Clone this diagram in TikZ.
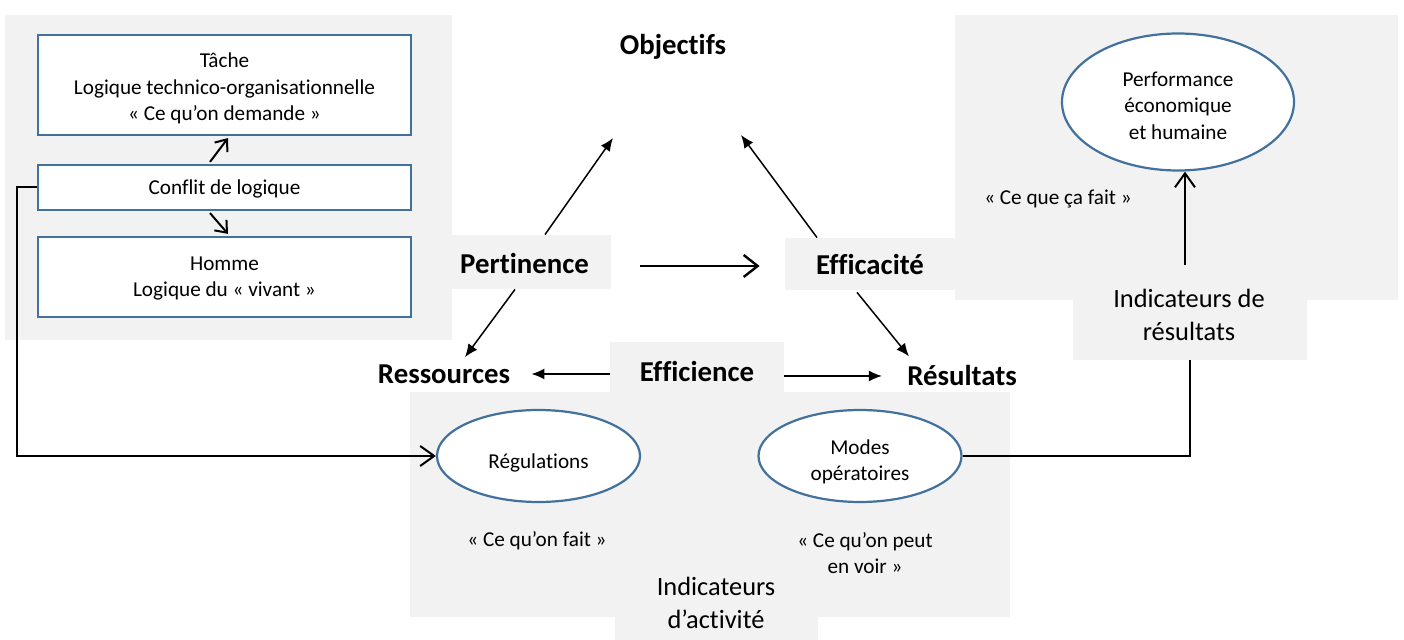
\documentclass[tikz,border=0pt]{standalone}
\usepackage{fontspec}
\setmainfont[Ligatures=NoCommon]{Carlito}
\usetikzlibrary{shapes.geometric,arrows.meta,calc}
\definecolor{panel}{HTML}{F2F2F2}
\definecolor{bord}{HTML}{41719C}
\begin{document}
\begin{tikzpicture}[x=0.5pt,y=-0.5pt,
  txt/.style={font=\fontsize{10.6}{13.3}\selectfont, align=center, inner sep=0pt},
  big/.style={font=\fontsize{14.4}{17}\selectfont\bfseries, inner sep=0pt},
  ind/.style={font=\fontsize{13.2}{16.5}\selectfont, align=center, inner sep=0pt},
  bluebox/.style={draw=bord, line width=1.1pt, fill=white, minimum width=186.5pt, align=center, inner sep=0pt, font=\fontsize{10.6}{13.3}\selectfont},
  oval/.style={ellipse, draw=bord, line width=1.1pt, fill=white, align=center, inner sep=0pt, font=\fontsize{10.6}{13.3}\selectfont},
  greybox/.style={fill=panel, inner sep=0pt, font=\fontsize{14.4}{17}\selectfont\bfseries},
  filled/.style={line width=0.75pt, -{Latex[length=6.5pt,width=5.5pt]}},
  openarr/.style={line width=1pt, -{Straight Barb[length=7pt,width=10pt]}},
  smallopen/.style={line width=1pt, -{Straight Barb[length=5pt,width=8pt]}},
]
\fill[white] (0,0) rectangle (1404,640);
\useasboundingbox (0,0) rectangle (1404,640);

% background panels
\fill[panel] (5,15) rectangle (452,340);
\fill[panel] (955,15) rectangle (1398,300);
\fill[panel] (410,392) rectangle (1010,617);
\fill[panel] (615,600) rectangle (818,640);
\node[greybox, minimum width=117pt, minimum height=35pt] (indresbox) at (1190,325) {};

% left boxes
\node[bluebox, minimum height=50pt,
  label={[txt, yshift=-1.75pt]center:{Tâche\\Logique technico-organisationnelle\\« Ce qu’on demande »}}] (tache) at (224.5,85) {};
\node[bluebox, minimum height=22.5pt,
  label={[txt, yshift=-0.5pt]center:{Conflit de logique}}] (conf) at (224.5,187.5) {};
\node[bluebox, minimum height=40pt,
  label={[txt, yshift=-0.75pt]center:{Homme\\Logique du « vivant »}}] (homme) at (224.5,277) {};

% grey label boxes
\node[greybox, minimum width=79.5pt, minimum height=27pt,
  label={[big, xshift=-3.5pt, yshift=-1pt]center:{Pertinence}}] (pert) at (531.5,262) {};
\node[greybox, minimum width=85pt, minimum height=26pt,
  label={[big, yshift=-0.5pt]center:{Efficacité}}] (eff) at (870,264) {};
\node[greybox, minimum width=87pt, minimum height=25pt,
  label={[big, yshift=-2.5pt]center:{Efficience}}] (effi) at (697,367) {};

% plain labels
\node[big] (obj) at (673,47) {Objectifs};
\node[big] (res) at (444,374) {Ressources};
\node[big] (resu) at (962,376) {Résultats};

% ellipses
\node[oval, minimum width=101.5pt, minimum height=46pt,
  label={[txt, yshift=-3.5pt]center:{Régulations}}] (reg) at (538.5,456) {};
\node[oval, minimum width=101.5pt, minimum height=46pt,
  label={[txt, yshift=-3pt]center:{Modes\\opératoires}}] (mod) at (860,456) {};
\node[oval, minimum width=116pt, minimum height=68.5pt,
  label={[txt, yshift=-1.75pt]center:{Performance\\économique\\et humaine}}] (perf) at (1178,102) {};

% quotes and indicators
\node[txt] (fait) at (537,541) {« Ce qu’on fait »};
\node[txt] (voir) at (865,553) {« Ce qu’on peut\\en voir »};
\node[txt] (cafait) at (1058,199) {« Ce que ça fait »};
\node[ind] (indact) at (716,603) {Indicateurs\\d’activité};
\node[ind] (indres) at (1189,315) {Indicateurs de\\résultats};

% free ends
\coordinate (objL) at (613,138);
\coordinate (objR) at (741,135);
\coordinate (c1) at (1185,265);

% triangle arrows
\draw[filled] ([xshift=6.75pt]pert.north) -- (objL);
\draw[filled] ([xshift=-26.5pt]eff.north) -- (objR);
\draw[filled] ([xshift=-8.25pt]pert.south) -- ([xshift=10.5pt,yshift=3.5pt]res.north);
\draw[filled] ([xshift=-6.5pt,yshift=-1pt]eff.south) -- ([xshift=-26.5pt,yshift=4.5pt]resu.north);
\draw[filled] (effi.west |- res.east) -- ([xshift=10.5pt]res.east);
\draw[filled] (effi.east |- resu.west) -- ([xshift=-12.5pt]resu.west);

% pertinence -> efficacite
\coordinate (pe1) at ([xshift=14.5pt,yshift=-2pt]pert.east);
\path (eff.west |- pe1) coordinate (pe2);
\draw[line width=1.2pt, -{Straight Barb[length=7pt,width=11pt]}] (pe1) -- ([xshift=-12.5pt]pe2);

% conflict arrows
\draw[smallopen] ([xshift=-7.25pt,yshift=1pt]conf.north) -- ([xshift=1.75pt,yshift=-1pt]tache.south);
\draw[smallopen] ([xshift=-7.25pt,yshift=-1pt]conf.south) -- ([xshift=1.75pt,yshift=1pt]homme.north);

% connectors
\draw[openarr] (conf.west) -- ++(-10pt,0) |- (reg.west);
\draw[line width=1pt] (mod.east) -| (indresbox.south);
\draw[openarr] (c1) -- (c1 |- perf.south);
\end{tikzpicture}
\end{document}
